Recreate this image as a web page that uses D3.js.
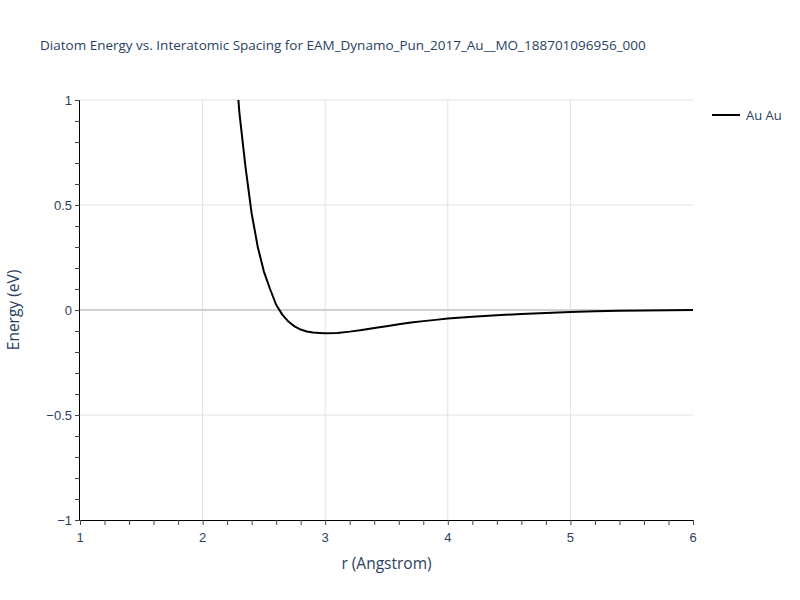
<!DOCTYPE html>
<html><head><meta charset="utf-8">
<script src="https://cdn.jsdelivr.net/npm/d3@7"></script>
<style>body{margin:0;background:#fff;} svg{display:block;font-family:"Open Sans",sans-serif;}</style>
</head><body>
<svg id="c" width="800" height="600"></svg>
<script>
const titleText = "Diatom Energy vs. Interatomic Spacing for EAM_Dynamo_Pun_2017_Au__MO_188701096956_000";
const seriesName = "Au Au";
const rValues = [2.2,2.25,2.3,2.35,2.4,2.45,2.5,2.55,2.6,2.65,2.7,2.75,2.8,2.85,2.9,2.95,3.0,3.1,3.2,3.3,3.4,3.5,3.6,3.7,3.8,3.9,4.0,4.2,4.4,4.6,4.8,5.0,5.2,5.4,5.6,5.8,6.0];
const energyValues = [1.85,1.32,0.94,0.68,0.46,0.30,0.183,0.10,0.025,-0.022,-0.055,-0.078,-0.093,-0.102,-0.107,-0.109,-0.111,-0.109,-0.103,-0.095,-0.086,-0.077,-0.068,-0.060,-0.053,-0.047,-0.041,-0.032,-0.025,-0.019,-0.014,-0.010,-0.006,-0.003,-0.002,-0.001,0];
const xTicks = [1,2,3,4,5,6];
const yTicks = [-1,-0.5,0,0.5,1];

const svg = d3.select("#c");
const L=80,R=693,T=100,B=520;
const x = d3.scaleLinear().domain([1,6]).range([L,R]);
const y = d3.scaleLinear().domain([-1,1]).range([B,T]);
const txt = "#2a3f5f";

// grid
svg.append("g").selectAll("line").data(xTicks.filter(d=>d>1&&d<6)).join("line")
  .attr("x1",d=>x(d)).attr("x2",d=>x(d)).attr("y1",T).attr("y2",B)
  .attr("stroke","#e1e1e1").attr("stroke-width",1);
svg.append("g").selectAll("line").data(yTicks.filter(d=>d!==0&&d>-1)).join("line")
  .attr("x1",L).attr("x2",R).attr("y1",d=>y(d)).attr("y2",d=>y(d))
  .attr("stroke","#e1e1e1").attr("stroke-width",1);
svg.append("line").attr("x1",L).attr("x2",R).attr("y1",y(0)).attr("y2",y(0))
  .attr("stroke","#d0d0d0").attr("stroke-width",2);

// curve
svg.append("clipPath").attr("id","clip").append("rect").attr("x",L).attr("y",T).attr("width",R-L).attr("height",B-T);
const pts = rValues.map((r,i)=>[r,energyValues[i]]);
svg.append("path").datum(pts).attr("clip-path","url(#clip)")
  .attr("d",d3.line().x(d=>x(d[0])).y(d=>y(d[1])))
  .attr("fill","none").attr("stroke","#000").attr("stroke-width",2).attr("stroke-linejoin","round");

// axes
const xa = svg.append("g").attr("transform",`translate(0,${B})`);
xa.call(d3.axisBottom(x).tickValues(d3.range(1,6.001,0.2)).tickSize(5).tickFormat(""));
xa.select(".domain").attr("stroke","#000").attr("d",`M${L},0.5H${R}`);
xa.selectAll(".tick line").attr("stroke","#444");
xa.append("g").selectAll("text").data(xTicks).join("text")
  .attr("x",d=>x(d)).attr("y",22).attr("text-anchor","middle").attr("fill",txt).attr("font-size",13)
  .text(d=>d);

const ya = svg.append("g").attr("transform",`translate(${L},0)`);
ya.call(d3.axisLeft(y).tickValues(d3.range(-10,10.5,1).map(d=>d/10)).tickSize(5).tickFormat(""));
ya.select(".domain").attr("stroke","#000").attr("d",`M-0.5,${T}V${B}`);
ya.selectAll(".tick line").attr("stroke","#444");
ya.append("g").selectAll("text").data(yTicks).join("text")
  .attr("x",-8).attr("y",d=>y(d)).attr("dy","0.35em").attr("text-anchor","end").attr("fill",txt).attr("font-size",13)
  .text(d=>d<0?"\u2212"+Math.abs(d):d);

// titles
svg.append("text").attr("x",40).attr("y",50).attr("fill",txt).attr("font-size",13.5).text(titleText);
svg.append("text").attr("x",(L+R)/2).attr("y",569).attr("text-anchor","middle").attr("fill",txt).attr("font-size",15.5).text("r (Angstrom)");
svg.append("text").attr("transform",`translate(19,${(T+B)/2}) rotate(-90)`).attr("text-anchor","middle").attr("fill",txt).attr("font-size",15.5).text("Energy (eV)");

// legend
const lg = svg.append("g").attr("transform","translate(712,115)");
lg.append("line").attr("x1",0).attr("x2",28).attr("stroke","#000").attr("stroke-width",2);
lg.append("text").attr("x",34).attr("dy","0.35em").attr("fill",txt).attr("font-size",13).text(seriesName);
</script>
</body></html>
